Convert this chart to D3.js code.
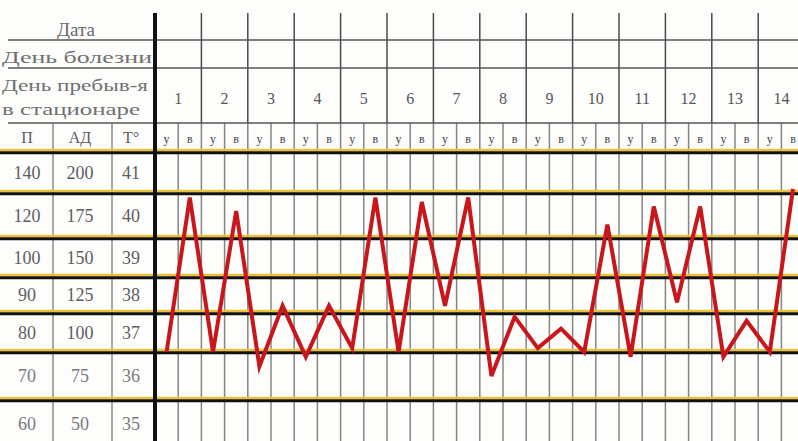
<!DOCTYPE html>
<html>
<head>
<meta charset="utf-8">
<script src="https://cdn.jsdelivr.net/npm/d3@7"></script>
<style>
	body { margin: 0; background: #fff; }
	svg { display: block; }
	text { font-family: "Liberation Serif", "DejaVu Serif", serif; }
</style>
</head>
<body>
<div id="wrapper"></div>
<script>

// 1. Data

const days = [1, 2, 3, 4, 5, 6, 7, 8, 9, 10, 11, 12, 13, 14];
const dayParts = ["у", "в"];
const pulseLabels = [140, 120, 100, 90, 80, 70, 60];
const pressureLabels = [200, 175, 150, 125, 100, 75, 50];
const tempLabels = [41, 40, 39, 38, 37, 36, 35];
const columnLabels = ["П", "АД", "T°"];
const headerLabels = ["Дата", "День болезни", "День пребыв-я", "в стационаре"];
// temperature, morning / evening, days 1..14
const temperature = [36.5, 40.4, 36.5, 40.1, 36.2, 37.7, 36.4, 37.7, 36.6, 40.4,
	36.5, 40.3, 37.7, 40.4, 36.0, 37.4, 36.6, 37.1, 36.5, 39.8,
	36.4, 40.2, 37.8, 40.2, 36.4, 37.3, 36.5, 40.6];

// 2. Dimensions

let dimensions = {
	width: 798,
	height: 441,
	top: 13,
	plotTop: 152,
	plotLeft: 155,
	halfWidth: 23.2
};
const headerLines = [40, 68, 123];
const columnX = [8, 53, 112, 155];

const halfDays = days.flatMap(d => dayParts.map(p => d + p));

// 3. Scales

const xHalf = d3.scaleBand()
	.domain(halfDays)
	.range([dimensions.plotLeft, dimensions.plotLeft + halfDays.length * dimensions.halfWidth]);

const xDay = d3.scaleBand()
	.domain(days)
	.range(xHalf.range());

// rows of the printed form are not evenly spaced in the photo
const y = d3.scaleLinear()
	.domain([41.5, 40.5, 39.5, 38.5, 37.5, 36.5, 35.5, 34.5])
	.range([152, 193, 238, 277, 313, 352, 400, 448]);

// 4. Static elements

const svg = d3.select("#wrapper")
	.append("svg")
	.attr("width", dimensions.width)
	.attr("height", dimensions.height);

svg.append("rect")
	.attr("width", dimensions.width)
	.attr("height", dimensions.height)
	.attr("fill", "#fdfdfc");

const grid = svg.append("g");

// half-day lines (from the у/в row down)
grid.selectAll("line.half")
	.data(halfDays)
	.enter()
	.append("line")
	.attr("class", "half")
	.attr("x1", d => xHalf(d) + xHalf.bandwidth())
	.attr("x2", d => xHalf(d) + xHalf.bandwidth())
	.attr("y1", headerLines[2])
	.attr("y2", dimensions.height)
	.style("stroke", "#858585")
	.style("stroke-width", "1.5px");

// day lines through the header
grid.selectAll("line.day")
	.data(days)
	.enter()
	.append("line")
	.attr("class", "day")
	.attr("x1", d => xDay(d) + xDay.bandwidth())
	.attr("x2", d => xDay(d) + xDay.bandwidth())
	.attr("y1", dimensions.top)
	.attr("y2", headerLines[2])
	.style("stroke", "#4a4a4a")
	.style("stroke-width", "1.5px");

// left columns
grid.selectAll("line.col")
	.data(columnX.slice(1, 3))
	.enter()
	.append("line")
	.attr("x1", d => d)
	.attr("x2", d => d)
	.attr("y1", headerLines[2])
	.attr("y2", dimensions.height)
	.style("stroke", "#8c8c8c")
	.style("stroke-width", "1.5px");

// header horizontal lines
grid.selectAll("line.head")
	.data(headerLines)
	.enter()
	.append("line")
	.attr("x1", columnX[0])
	.attr("x2", dimensions.width)
	.attr("y1", d => d)
	.attr("y2", d => d)
	.style("stroke", "#555")
	.style("stroke-width", "1.5px");

// thick row lines: yellow edge + black
const rowBounds = [41.5, 40.5, 39.5, 38.5, 37.5, 36.5, 35.5];
grid.selectAll("line.rowY")
	.data(rowBounds)
	.enter()
	.append("line")
	.attr("x1", 0)
	.attr("x2", dimensions.width)
	.attr("y1", d => y(d) - 2)
	.attr("y2", d => y(d) - 2)
	.style("stroke", "#e9c23a")
	.style("stroke-width", "2.5px");

grid.selectAll("line.rowK")
	.data(rowBounds)
	.enter()
	.append("line")
	.attr("x1", 0)
	.attr("x2", dimensions.width)
	.attr("y1", d => y(d) + 0.8)
	.attr("y2", d => y(d) + 0.8)
	.style("stroke", "#111")
	.style("stroke-width", "3px");

// main vertical separator
grid.append("line")
	.attr("x1", dimensions.plotLeft)
	.attr("x2", dimensions.plotLeft)
	.attr("y1", dimensions.top)
	.attr("y2", dimensions.height)
	.style("stroke", "#111")
	.style("stroke-width", "4px");

// 5. Texts

const textColor = "#5e5e5e";

svg.append("text")
	.attr("x", 76)
	.attr("y", 36)
	.attr("text-anchor", "middle")
	.attr("fill", "#6a6a6a")
	.style("font-size", "19px")
	.text(headerLabels[0]);

const leftHeader = [
	{ text: headerLabels[1], y: 63, len: 150 },
	{ text: headerLabels[2], y: 91, len: 146 },
	{ text: headerLabels[3], y: 115, len: 138 }
];
svg.selectAll("text.lefthead")
	.data(leftHeader)
	.enter()
	.append("text")
	.attr("x", 2)
	.attr("y", d => d.y)
	.attr("fill", "#707070")
	.attr("textLength", d => d.len)
	.attr("lengthAdjust", "spacingAndGlyphs")
	.style("font-size", "17px")
	.text(d => d.text);

svg.selectAll("text.daynum")
	.data(days)
	.enter()
	.append("text")
	.attr("x", d => xDay(d) + xDay.bandwidth() / 2)
	.attr("y", 104)
	.attr("text-anchor", "middle")
	.attr("fill", "#555")
	.style("font-size", "16px")
	.text(d => d);

svg.selectAll("text.part")
	.data(halfDays)
	.enter()
	.append("text")
	.attr("x", d => xHalf(d) + xHalf.bandwidth() / 2)
	.attr("y", 143)
	.attr("text-anchor", "middle")
	.attr("fill", "#444")
	.style("font-size", "12px")
	.text(d => d.slice(-1));

const colCenters = [27, 80, 131];
svg.selectAll("text.colhead")
	.data(columnLabels)
	.enter()
	.append("text")
	.attr("x", (d, i) => colCenters[i])
	.attr("y", 143)
	.attr("text-anchor", "middle")
	.attr("fill", textColor)
	.style("font-size", "16px")
	.text(d => d);

const scaleCols = [pulseLabels, pressureLabels, tempLabels];
scaleCols.forEach((labels, c) => {
	svg.selectAll("text.scale" + c)
		.data(labels)
		.enter()
		.append("text")
		.attr("x", colCenters[c])
		.attr("y", (d, i) => y(tempLabels[i]) + 6)
		.attr("text-anchor", "middle")
		.attr("fill", (d, i) => i > 4 ? "#7a7a7a" : textColor)
		.style("font-size", "18px")
		.text(d => d);
});

// 6. Temperature curve

const line = d3.line()
	.x((d, i) => xHalf(halfDays[i]) + xHalf.bandwidth() / 2)
	.y(d => y(d));

svg.append("path")
	.datum(temperature)
	.attr("d", line)
	.attr("fill", "none")
	.style("stroke", "#c8161c")
	.style("stroke-width", "4px")
	.style("stroke-linejoin", "miter");

</script>
</body>
</html>
